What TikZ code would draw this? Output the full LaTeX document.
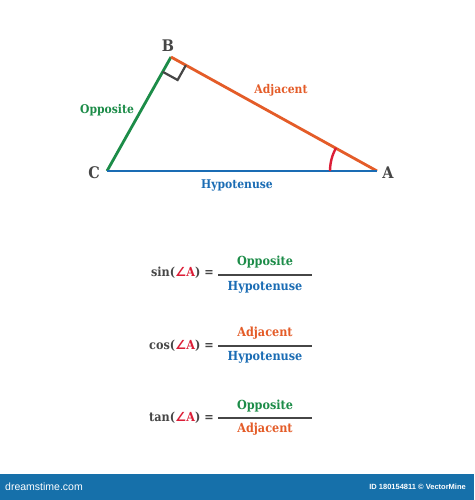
\documentclass[tikz,border=0pt]{standalone}
\usepackage{fontspec}
\setmainfont{DejaVu Serif Condensed}
\newfontfamily\symfont{DejaVu Sans}
\newfontfamily\wmfont{Liberation Sans}
\usetikzlibrary{calc}
\definecolor{cgreen}{RGB}{28,140,72}
\definecolor{corange}{RGB}{228,92,40}
\definecolor{cblue}{RGB}{26,108,180}
\definecolor{cred}{RGB}{220,30,55}
\definecolor{cgray}{RGB}{70,70,70}
\definecolor{cbar}{RGB}{22,112,170}
\tikzset{
  side/.style={line width=2.8pt},
  vlabel/.style={font=\fontsize{16}{18}\selectfont\bfseries, text=cgray, inner sep=0pt},
  slabel/.style={font=\fontsize{12}{14}\selectfont\bfseries, inner sep=0pt},
  flabel/.style={font=\fontsize{12.5}{14}\selectfont\bfseries, inner sep=0pt},
  fbar/.style={line width=2.2pt, draw=cgray},
}
\newcommand{\angA}{\textcolor{cred}{{\symfont\bfseries ∠}A}}
\begin{document}
\begin{tikzpicture}[x=1pt,y=-1pt]
\useasboundingbox (0,0) rectangle (474,500);
\fill[white] (0,0) rectangle (474,500);
% triangle
\coordinate (B) at (171,57);
\coordinate (C) at (107,171);
\coordinate (A) at (377,171);
\coordinate (R1) at (162.7,71.8);
\coordinate (R2) at (185.9,65.2);
\coordinate (R3) at (177.6,80);
\draw[side, cgreen] (C) -- (B);
\draw[side, corange] (B) -- (A);
\draw[side, cblue] (C) -- (A);
\draw[line width=2.2pt, cgray, line join=miter] (R1) -- (R3) -- (R2);
\coordinate (ArcS) at (330,171);
\draw[line width=2.4pt, cred] (ArcS) arc[start angle=180, end angle=209.5, radius=47];
\node[vlabel] (lB) at (168,46) {B};
\node[vlabel] (lC) at (94,173) {C};
\node[vlabel] (lA) at (388,173) {A};
\node[slabel, text=cgreen] (lOpp) at (107,110) {Opposite};
\node[slabel, text=corange] (lAdj) at (281,90) {Adjacent};
\node[slabel, text=cblue] (lHyp) at (237,185) {Hypotenuse};
% sin
\node[flabel, text=cgray, anchor=east] (sinL) at (214,273) {sin(\angA) =};
\coordinate (s1) at (218,275); \coordinate (s2) at (312,275);
\draw[fbar] (s1) -- (s2);
\node[flabel, text=cgreen] (sinN) at (265,262) {Opposite};
\node[flabel, text=cblue] (sinD) at (265,287) {Hypotenuse};
% cos
\node[flabel, text=cgray, anchor=east] (cosL) at (214,346) {cos(\angA) =};
\coordinate (c1) at (218,346); \coordinate (c2) at (312,346);
\draw[fbar] (c1) -- (c2);
\node[flabel, text=corange] (cosN) at (265,333) {Adjacent};
\node[flabel, text=cblue] (cosD) at (265,357) {Hypotenuse};
% tan
\node[flabel, text=cgray, anchor=east] (tanL) at (214,418) {tan(\angA) =};
\coordinate (t1) at (218,418); \coordinate (t2) at (312,418);
\draw[fbar] (t1) -- (t2);
\node[flabel, text=cgreen] (tanN) at (265,406) {Opposite};
\node[flabel, text=corange] (tanD) at (265,429) {Adjacent};
% bottom bar
\fill[cbar] (0,474) rectangle (474,500);
\node[font=\wmfont\fontsize{10.5}{12}\selectfont, text=white, anchor=west, inner sep=0pt] (wm1) at (5,487) {dreamstime.com};
\node[font=\wmfont\fontsize{7.5}{9}\selectfont\bfseries, text=white, anchor=east, inner sep=0pt] (wm2) at (466,487) {ID 180154811 © VectorMine};
\end{tikzpicture}
\end{document}
